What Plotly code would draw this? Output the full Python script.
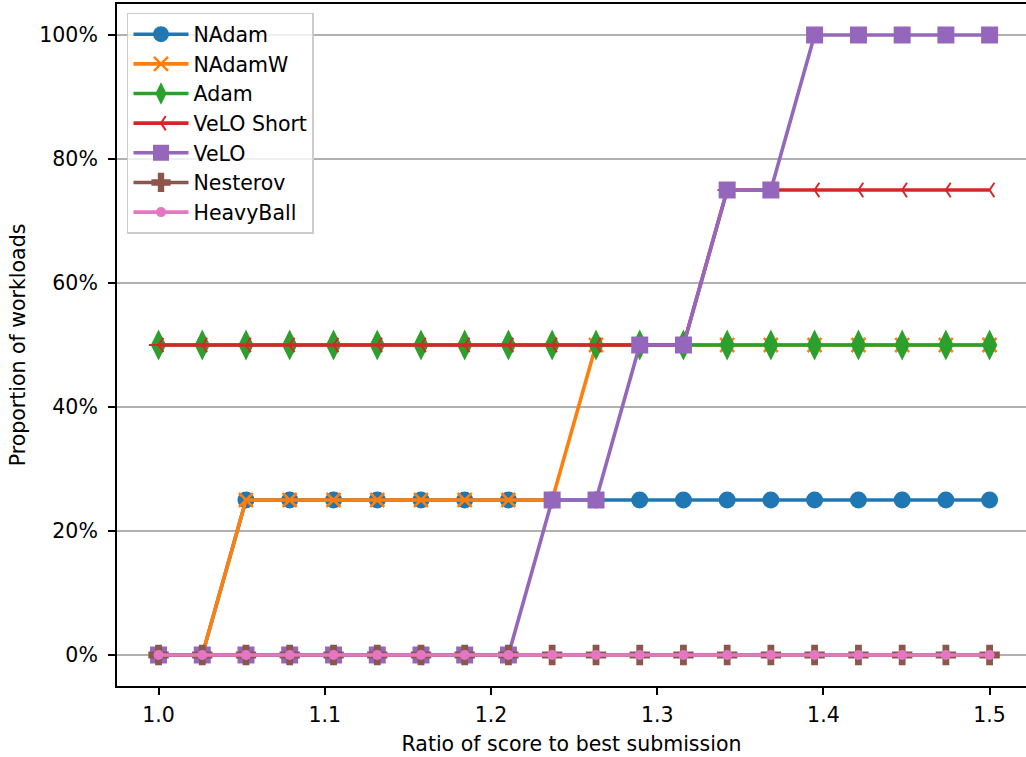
import plotly.graph_objects as go

ratios = [1.0, 1.0263, 1.0526, 1.0789, 1.1053, 1.1316, 1.1579, 1.1842, 1.2105, 1.2368,
          1.2632, 1.2895, 1.3158, 1.3421, 1.3684, 1.3947, 1.4211, 1.4474, 1.4737, 1.5]

nadam      = [0, 0, .25, .25, .25, .25, .25, .25, .25, .25, .25, .25, .25, .25, .25, .25, .25, .25, .25, .25]
nadamw     = [0, 0, .25, .25, .25, .25, .25, .25, .25, .25, .5, .5, .5, .5, .5, .5, .5, .5, .5, .5]
adam       = [.5] * 20
velo_short = [.5, .5, .5, .5, .5, .5, .5, .5, .5, .5, .5, .5, .5, .75, .75, .75, .75, .75, .75, .75]
velo       = [0, 0, 0, 0, 0, 0, 0, 0, 0, .25, .25, .5, .5, .75, .75, 1, 1, 1, 1, 1]
nesterov   = [0] * 20
heavyball  = [0] * 20

x_ticks = [1.0, 1.1, 1.2, 1.3, 1.4, 1.5]
y_ticks = [0, 0.2, 0.4, 0.6, 0.8, 1.0]

series = [
    ("NAdam", nadam, "#1f77b4", dict(symbol="circle", size=17)),
    ("NAdamW", nadamw, "#ff7f0e", dict(symbol="x-thin", size=14, line=dict(width=2.5, color="#ff7f0e"))),
    ("Adam", adam, "#2ca02c", dict(symbol="diamond-tall", size=22)),
    ("VeLO Short", velo_short, "#d62728", dict(symbol="y-left", size=12, line=dict(width=2, color="#d62728"))),
    ("VeLO", velo, "#9467bd", dict(symbol="square", size=17)),
    ("Nesterov", nesterov, "#8c564b", dict(symbol="cross", size=17)),
    ("HeavyBall", heavyball, "#e377c2", dict(symbol="circle", size=10)),
]

fig = go.Figure()
for name, vals, color, mk in series:
    mk = dict(mk)
    mk["color"] = color
    fig.add_trace(go.Scatter(x=ratios, y=vals, name=name, mode="lines+markers",
                             line=dict(color=color, width=3.6), marker=mk))

font = "DejaVu Sans"
fs = 20.5
fig.update_layout(
    width=1026, height=757,
    margin=dict(l=117, r=0, t=4, b=71, autoexpand=False),
    plot_bgcolor="white", paper_bgcolor="white",
    font=dict(family=font, size=fs, color="black"),
    showlegend=True,
    legend=dict(x=0.011, y=0.987, xanchor="left", yanchor="top",
                bordercolor="#cccccc", borderwidth=1.5, bgcolor="rgba(255,255,255,0.8)",
                font=dict(size=fs), tracegroupgap=0, itemwidth=55),
    xaxis=dict(range=[0.975, 1.5219], tickvals=x_ticks, ticktext=[f"{v:.1f}" for v in x_ticks],
               showgrid=False, zeroline=False, showline=True, linecolor="black", linewidth=2,
               mirror=True, ticks="outside", ticklen=7, tickwidth=1.5, tickcolor="black",
               automargin=False,
               title=dict(text="Ratio of score to best submission", standoff=11, font=dict(size=fs)),
               ticklabelstandoff=2),
    yaxis=dict(range=[-0.05, 1.05], tickvals=y_ticks, ticktext=[f"{int(round(v*100))}%" for v in y_ticks],
               showgrid=True, gridcolor="#b0b0b0", gridwidth=1.5, zeroline=False,
               showline=True, linecolor="black", linewidth=2, automargin=False,
               ticks="outside", ticklen=7, tickwidth=1.5, tickcolor="black",
               title=dict(text="Proportion of workloads", standoff=8, font=dict(size=fs)),
               ticklabelstandoff=6),
)

fig.write_html("out.html", config={"displayModeBar": False},
               post_script="document.body.style.margin='0';document.body.style.overflow='hidden';")
